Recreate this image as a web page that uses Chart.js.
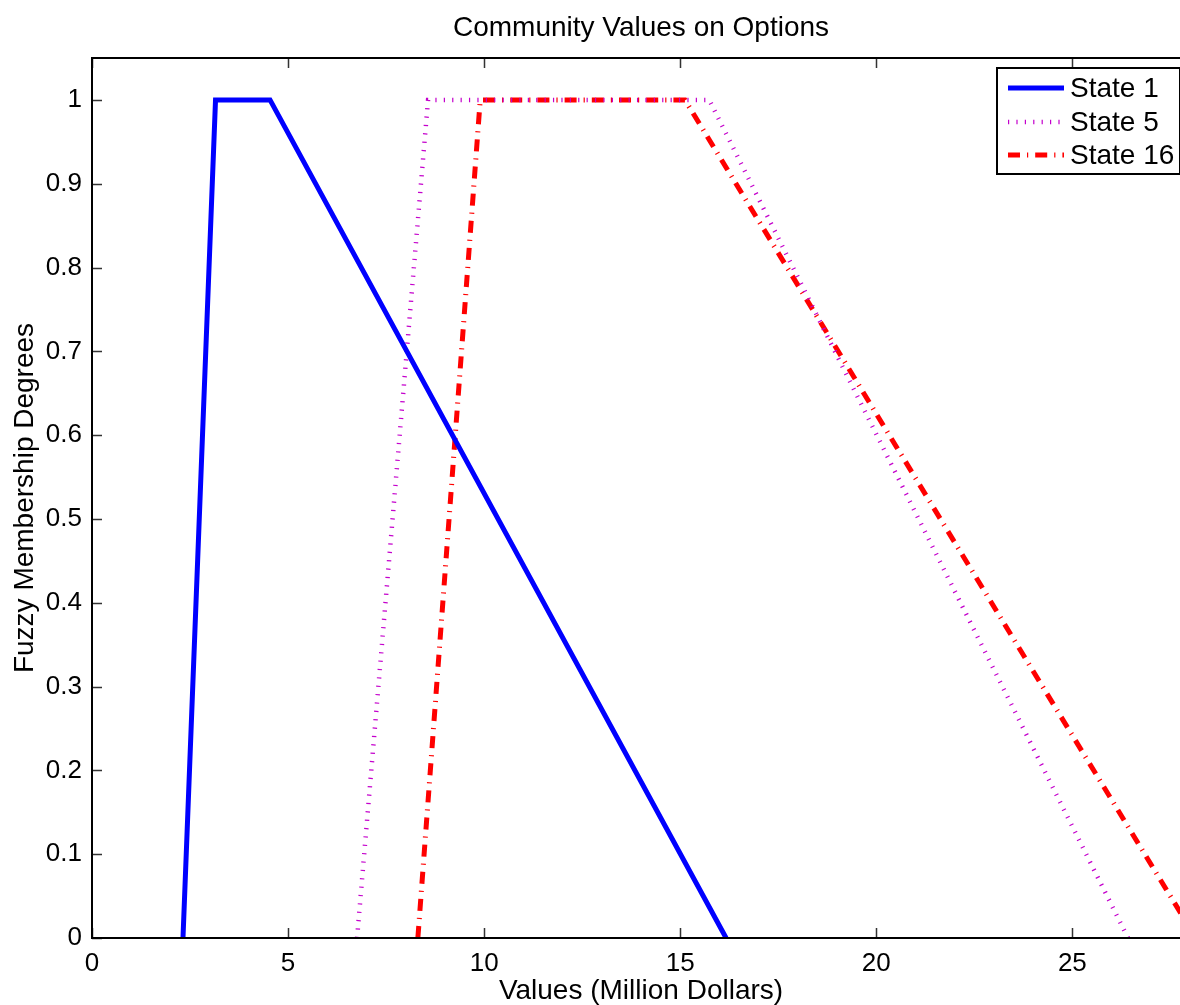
<!DOCTYPE html>
<html>
<head>
<meta charset="utf-8">
<title>Community Values on Options</title>
<script src="https://cdn.jsdelivr.net/npm/chart.js@4.4.1/dist/chart.umd.min.js"></script>
<style>
  html, body { margin: 0; padding: 0; background: #fff; overflow: hidden; }
  #wrap { width: 1192px; height: 1005px; }
</style>
</head>
<body>
<div id="wrap"><canvas id="chart" width="1192" height="1005"></canvas></div>
<script>
// Membership function breakpoints (value in million dollars, membership degree)
const state1X = [2.32, 3.15, 4.54, 16.17];
const state1Y = [0, 1, 1, 0];
const state5X = [6.76, 8.57, 15.74, 26.42];
const state5Y = [0, 1, 1, 0];
const state16X = [8.31, 9.9, 15.12, 28.15];
const state16Y = [0, 1, 1, 0];

const seriesLabels = ['State 1', 'State 5', 'State 16'];
const xTicks = [0, 5, 10, 15, 20, 25];
const yTicks = [0, 0.1, 0.2, 0.3, 0.4, 0.5, 0.6, 0.7, 0.8, 0.9, 1];

const FONT = '"Liberation Sans", Arial, Helvetica, sans-serif';

function pts(xs, ys) { return xs.map((x, i) => ({ x: x, y: ys[i] })); }
function fmt(v) { return String(Math.round(v * 10) / 10); }

// Box frame with inward tick marks on all four sides, plus title and legend
const framePlugin = {
  id: 'frame',
  afterDraw(chart) {
    const ctx = chart.ctx;
    const a = chart.chartArea;
    const xs = chart.scales.x, ys = chart.scales.y;
    ctx.save();
    ctx.strokeStyle = '#333';
    ctx.lineWidth = 1.5;
    const tl = 10;
    ctx.beginPath();
    xTicks.forEach(v => {
      const px = Math.round(xs.getPixelForValue(v)) + 0.5;
      ctx.moveTo(px, a.bottom); ctx.lineTo(px, a.bottom - tl);
      ctx.moveTo(px, a.top); ctx.lineTo(px, a.top + tl);
    });
    yTicks.forEach(v => {
      const py = Math.round(ys.getPixelForValue(v)) + 0.5;
      ctx.moveTo(a.left, py); ctx.lineTo(a.left + tl, py);
      ctx.moveTo(a.right, py); ctx.lineTo(a.right - tl, py);
    });
    ctx.stroke();
    ctx.strokeStyle = '#000';
    ctx.lineWidth = 2;
    ctx.strokeRect(a.left, a.top, a.right - a.left, a.bottom - a.top);

    // title
    ctx.fillStyle = '#000';
    ctx.font = '28px ' + FONT;
    ctx.textAlign = 'center';
    ctx.textBaseline = 'middle';
    ctx.fillText('Community Values on Options', (a.left + a.right) / 2, 28);

    // legend
    const bx = 997, by = 68, bw = 183, bh = 106;
    ctx.fillStyle = '#fff';
    ctx.fillRect(bx, by, bw, bh);
    ctx.strokeStyle = '#000';
    ctx.lineWidth = 2;
    ctx.strokeRect(bx, by, bw, bh);
    const rowY = [88, 122, 155];
    chart.data.datasets.forEach((ds, i) => {
      ctx.save();
      ctx.strokeStyle = ds.borderColor;
      ctx.lineWidth = ds.borderWidth;
      ctx.setLineDash(ds.borderDash || []);
      ctx.lineCap = 'butt';
      ctx.beginPath();
      ctx.moveTo(1008, rowY[i]);
      ctx.lineTo(1064, rowY[i]);
      ctx.stroke();
      ctx.restore();
      ctx.fillStyle = '#000';
      ctx.font = '28px ' + FONT;
      ctx.textAlign = 'left';
      ctx.textBaseline = 'middle';
      ctx.fillText(ds.label, 1070, rowY[i] + 1);
    });
    ctx.restore();
  }
};

new Chart(document.getElementById('chart'), {
  type: 'scatter',
  data: {
    datasets: [
      {
        label: seriesLabels[0],
        data: pts(state1X, state1Y),
        showLine: true,
        borderColor: '#0000ff',
        borderWidth: 5,
        pointRadius: 0,
        borderJoinStyle: 'miter',
        borderCapStyle: 'butt'
      },
      {
        label: seriesLabels[1],
        data: pts(state5X, state5Y),
        showLine: true,
        borderColor: '#c400cc',
        borderWidth: 4.5,
        borderDash: [1.2, 7.2],
        pointRadius: 0,
        borderCapStyle: 'butt'
      },
      {
        label: seriesLabels[2],
        data: pts(state16X, state16Y),
        showLine: true,
        borderColor: '#ff0000',
        borderWidth: 5,
        borderDash: [12, 7, 1.2, 7],
        pointRadius: 0,
        borderCapStyle: 'butt'
      }
    ]
  },
  options: {
    responsive: false,
    animation: false,
    events: [],
    layout: { padding: { top: 58, right: 2, left: 0, bottom: 0 } },
    plugins: {
      legend: { display: false },
      title: { display: false },
      tooltip: { enabled: false }
    },
    scales: {
      x: {
        type: 'linear',
        min: 0,
        max: 28,
        afterFit(scale) { scale.height = 67; },
        grid: { display: false, drawTicks: false },
        border: { display: false },
        ticks: {
          stepSize: 5,
          includeBounds: false,
          padding: 10,
          color: '#000',
          font: { family: FONT, size: 26 },
          maxRotation: 0,
          autoSkip: false,
          callback: fmt
        },
        title: {
          display: true,
          text: 'Values (Million Dollars)',
          color: '#000',
          font: { family: FONT, size: 28 },
          padding: { top: 0, bottom: -3 }
        }
      },
      y: {
        type: 'linear',
        min: 0,
        max: 1.05,
        afterFit(scale) { scale.width = 92; },
        grid: { display: false, drawTicks: false },
        border: { display: false },
        ticks: {
          stepSize: 0.1,
          includeBounds: false,
          padding: 10,
          color: '#000',
          font: { family: FONT, size: 26 },
          autoSkip: false,
          callback: fmt
        },
        title: {
          display: true,
          text: 'Fuzzy Membership Degrees',
          color: '#000',
          font: { family: FONT, size: 28 },
          padding: { top: 8, bottom: 0 }
        }
      }
    }
  },
  plugins: [framePlugin]
});
</script>
</body>
</html>
